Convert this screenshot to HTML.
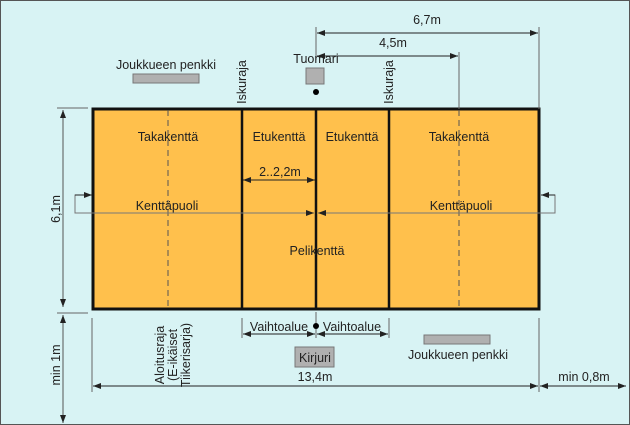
<!DOCTYPE html>
<html><head><meta charset="utf-8"><style>
html,body{margin:0;padding:0;background:#d8f3f4}
svg{display:block}
text{font-family:"Liberation Sans",sans-serif;font-size:12.5px;fill:#222}
</style></head><body>
<svg width="630" height="425" viewBox="0 0 630 425" xmlns="http://www.w3.org/2000/svg">
<defs>
<marker id="a" markerWidth="8" markerHeight="6" refX="8" refY="3" orient="auto-start-reverse" markerUnits="userSpaceOnUse">
<path d="M0,0 L8,3 L0,6 Z" fill="#222"/></marker>
</defs>
<rect x="0.5" y="0.5" width="629" height="424" fill="#d8f3f4" stroke="#555"/>
<rect x="93" y="109" width="446" height="200" fill="#ffc04c" stroke="#111" stroke-width="3"/>
<g stroke="#111" stroke-width="2.5"><line x1="242" y1="109" x2="242" y2="309"/><line x1="316" y1="109" x2="316" y2="309"/><line x1="389" y1="109" x2="389" y2="309"/></g>
<g stroke="#555" stroke-dasharray="6,4"><line x1="168" y1="110" x2="168" y2="308"/><line x1="459" y1="110" x2="459" y2="308"/></g>
<g stroke="#666" fill="none">
<line x1="316" y1="27" x2="316" y2="60"/><line x1="459" y1="52" x2="459" y2="109"/><line x1="539" y1="27" x2="539" y2="109"/>
<line x1="317" y1="33" x2="538" y2="33" stroke="#222" marker-start="url(#a)" marker-end="url(#a)"/>
<line x1="317" y1="56" x2="458" y2="56" stroke="#222" marker-start="url(#a)" marker-end="url(#a)"/>
<line x1="57" y1="108" x2="88" y2="108"/><line x1="57" y1="313" x2="88" y2="313"/>
<line x1="63" y1="110" x2="63" y2="307" stroke="#555" marker-start="url(#a)" marker-end="url(#a)"/>
<line x1="63" y1="315" x2="63" y2="423" stroke="#555" marker-start="url(#a)" marker-end="url(#a)"/>
<polyline points="92,195 75,195 75,213 314,213" stroke="#777"/>
<line x1="75" y1="195" x2="92" y2="195" stroke="#222" marker-end="url(#a)"/>
<line x1="240" y1="213" x2="314" y2="213" stroke="#777" marker-end="url(#a)"/>
<polyline points="540,195 555,195 555,213 318,213" stroke="#777"/>
<line x1="555" y1="195" x2="541" y2="195" stroke="#222" marker-end="url(#a)"/>
<line x1="390" y1="213" x2="318" y2="213" stroke="#777" marker-end="url(#a)"/>
<line x1="243" y1="180" x2="315" y2="180" stroke="#222" marker-start="url(#a)" marker-end="url(#a)"/>
<line x1="242" y1="318" x2="242" y2="338"/><line x1="389" y1="318" x2="389" y2="338"/><line x1="316" y1="312" x2="316" y2="338"/>
<line x1="243" y1="334" x2="315" y2="334" stroke="#222" marker-start="url(#a)" marker-end="url(#a)"/>
<line x1="317" y1="334" x2="388" y2="334" stroke="#222" marker-start="url(#a)" marker-end="url(#a)"/>
<line x1="92" y1="318" x2="92" y2="392"/><line x1="539" y1="318" x2="539" y2="392"/>
<line x1="93" y1="386" x2="538" y2="386" stroke="#222" marker-start="url(#a)" marker-end="url(#a)"/>
<line x1="540" y1="386" x2="626" y2="386" stroke="#222" marker-start="url(#a)" marker-end="url(#a)"/>
</g>
<rect x="133" y="74" width="66" height="9" fill="#b0b0b0" stroke="#777"/>
<rect x="306" y="68" width="18" height="16" fill="#b0b0b0" stroke="#777"/>
<circle cx="316" cy="92" r="3" fill="#000"/>
<circle cx="316" cy="326" r="3" fill="#000"/>
<rect x="295" y="347" width="39" height="20" fill="#b0b0b0" stroke="#777"/>
<rect x="424" y="335" width="66" height="9" fill="#b0b0b0" stroke="#777"/>
<g text-anchor="middle">
<text x="427" y="24">6,7m</text><text x="393" y="47">4,5m</text>
<text x="316" y="63">Tuomari</text><text x="166" y="69">Joukkueen penkki</text>
<text x="168" y="141">Takakenttä</text><text x="279" y="141">Etukenttä</text><text x="352" y="141">Etukenttä</text><text x="459" y="141">Takakenttä</text>
<text x="280" y="176">2..2,2m</text>
<text x="167" y="210">Kenttäpuoli</text><text x="461" y="210">Kenttäpuoli</text>
<text x="317" y="255">Pelikenttä</text>
<text x="279" y="331">Vaihtoalue</text><text x="352" y="331">Vaihtoalue</text>
<text x="315" y="362">Kirjuri</text><text x="458" y="359">Joukkueen penkki</text>
<text x="315" y="381">13,4m</text><text x="584" y="381">min 0,8m</text>
<text transform="translate(246,82) rotate(-90)">Iskuraja</text>
<text transform="translate(393,82) rotate(-90)">Iskuraja</text>
<text transform="translate(60,209) rotate(-90)">6,1m</text>
<text transform="translate(60,365) rotate(-90)">min 1m</text>
<text transform="translate(164,355) rotate(-90)">Aloitusraja</text>
<text transform="translate(177,355) rotate(-90)">(E-ikäiset</text>
<text transform="translate(190,355) rotate(-90)">Tiikerisarja)</text>
</g>
</svg>
</body></html>
